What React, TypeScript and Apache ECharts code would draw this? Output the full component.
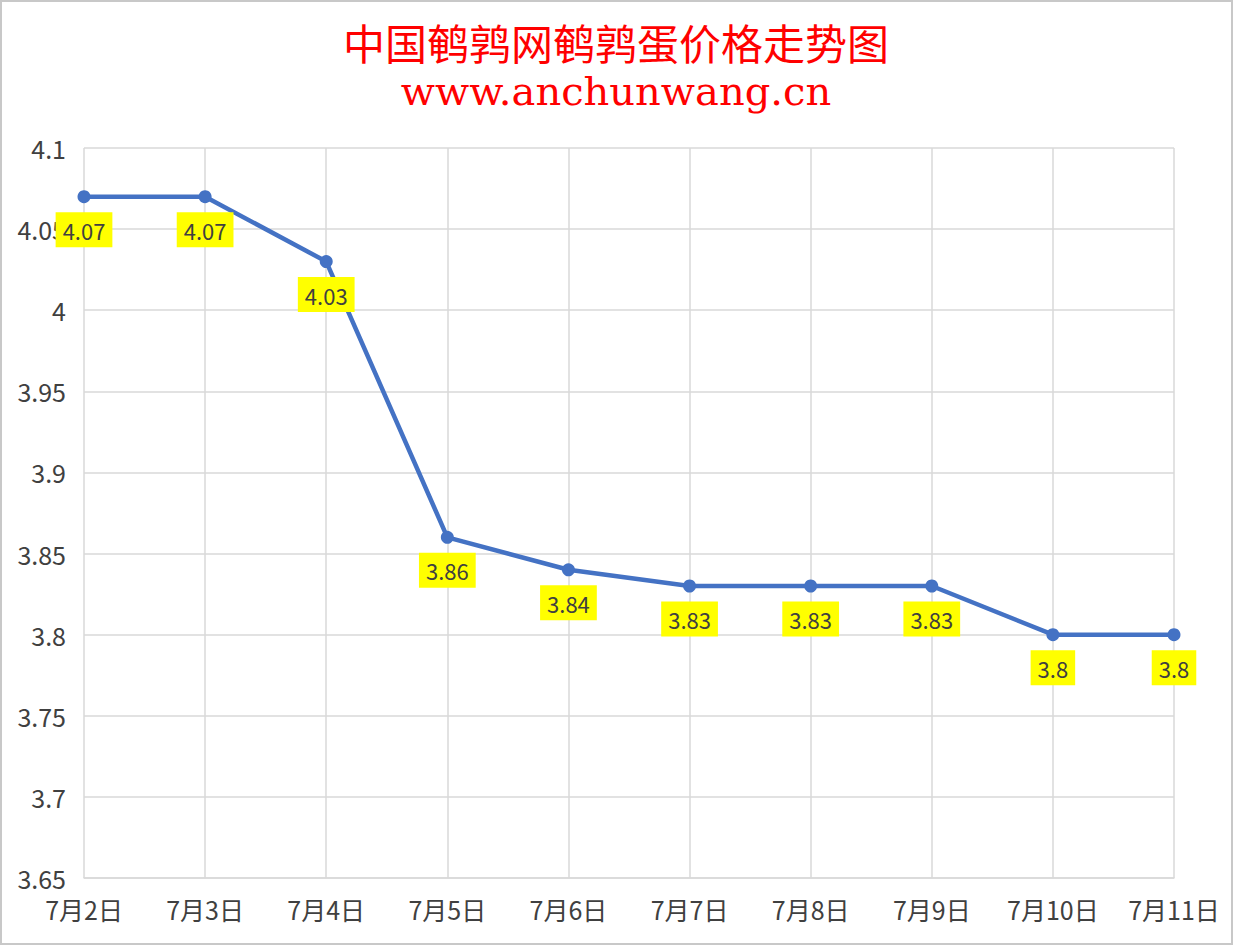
import React, { useEffect, useRef } from "react";
import * as echarts from "echarts";

const titleMain = "中国鹌鹑网鹌鹑蛋价格走势图";
const titleSub = "www.anchunwang.cn";
const categories = ["7月2日", "7月3日", "7月4日", "7月5日", "7月6日", "7月7日", "7月8日", "7月9日", "7月10日", "7月11日"];
const prices = [4.07, 4.07, 4.03, 3.86, 3.84, 3.83, 3.83, 3.83, 3.8, 3.8];
const yMin = 3.65;
const yMax = 4.1;
const yStep = 0.05;

export default function App() {
  const ref = useRef<HTMLDivElement>(null);
  useEffect(() => {
    if (!ref.current) return;
    const chart = echarts.init(ref.current, null, { renderer: "svg" });
    chart.setOption({
      animation: false,
      backgroundColor: "#ffffff",
      grid: { left: 84, right: 59, top: 148, bottom: 67, containLabel: false },
      graphic: [
        {
          type: "rect",
          shape: { x: 1, y: 1, width: 1231, height: 943 },
          style: { fill: "none", stroke: "#c8c8c8", lineWidth: 2 },
          silent: true,
        },
        {
          type: "text",
          x: 616,
          y: 41,
          style: {
            text: titleMain,
            fill: "#ff0000",
            font: '42px "Noto Sans CJK SC"',
            align: "center",
            verticalAlign: "middle",
          },
        },
        {
          type: "text",
          x: 616,
          y: 91,
          style: {
            text: titleSub,
            fill: "#ff0000",
            font: '40px "DejaVu Serif"',
            align: "center",
            verticalAlign: "middle",
          },
        },
      ],
      xAxis: {
        type: "category",
        data: categories,
        boundaryGap: false,
        axisLine: { show: true, lineStyle: { color: "#d9d9d9", width: 1.5 } },
        axisTick: { show: false },
        axisLabel: {
          color: "#404040",
          fontSize: 25,
          fontFamily: "Noto Sans CJK SC",
          margin: 18,
        },
        splitLine: { show: true, lineStyle: { color: "#d9d9d9", width: 1.5 } },
      },
      yAxis: {
        type: "value",
        min: yMin,
        max: yMax,
        interval: yStep,
        axisLine: { show: false },
        axisTick: { show: false },
        axisLabel: {
          color: "#404040",
          fontSize: 25,
          fontFamily: "Noto Sans CJK SC",
          margin: 18,
          formatter: (v: number) => String(Math.round(v * 100) / 100),
        },
        splitLine: { show: true, lineStyle: { color: "#d9d9d9", width: 1.5 } },
      },
      series: [
        {
          type: "line",
          data: prices,
          symbol: "circle",
          symbolSize: 13,
          lineStyle: { color: "#4472c4", width: 4.5 },
          itemStyle: { color: "#4472c4" },
          label: {
            show: true,
            position: "bottom",
            distance: 9,
            color: "#404040",
            fontSize: 22,
            fontFamily: "Noto Sans CJK SC",
            backgroundColor: "#ffff00",
            padding: [6, 7, 6, 7],
            lineHeight: 23,
          },
          z: 5,
        },
      ],
    });
    return () => chart.dispose();
  }, []);
  return (
    <div
      ref={ref}
      style={{ position: "fixed", left: 0, top: 0, width: 1233, height: 945, background: "#fff" }}
    />
  );
}
